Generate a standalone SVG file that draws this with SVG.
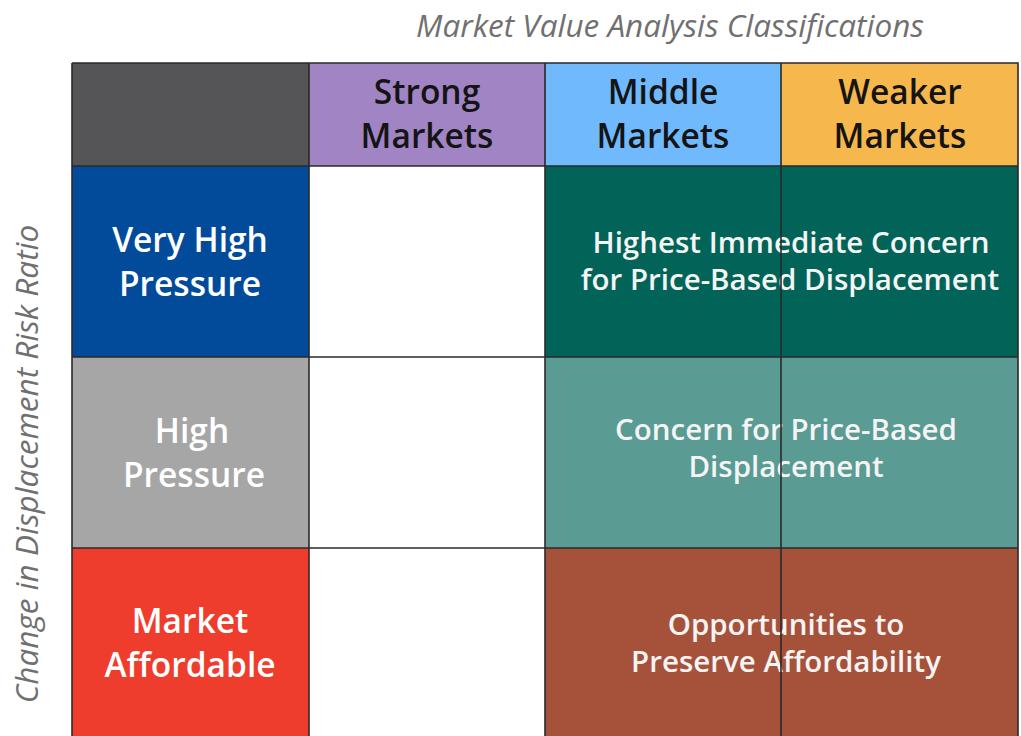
<svg xmlns="http://www.w3.org/2000/svg" width="1021" height="736" viewBox="0 0 1021 736">
<style>
.hd{font-family:"Open Sans","Liberation Sans",sans-serif;font-size:33.5px;font-weight:600;fill:#141414;text-anchor:middle}
.rl{font-family:"Open Sans","Liberation Sans",sans-serif;font-size:33.5px;font-weight:600;fill:#ffffff;text-anchor:middle}
.ct{font-family:"Open Sans","Liberation Sans",sans-serif;font-size:29.5px;font-weight:600;fill:#f4f4f4;text-anchor:middle}
.ax{font-family:"Open Sans","Liberation Sans",sans-serif;font-size:31.5px;font-style:italic;fill:#707070;text-anchor:middle}
.ln{stroke:#2a2a2a;stroke-width:1.6;fill:none}
</style>
<rect width="1021" height="736" fill="#ffffff"/>
<text class="ax" x="670" y="37">Market Value Analysis Classifications</text>
<text class="ax" transform="translate(38,464) rotate(-90)">Change in Displacement Risk Ratio</text>

<g id="corner"><rect x="72" y="63" width="237" height="103" fill="#555557"/></g>
<g id="strong"><rect x="309" y="63" width="236" height="103" fill="#a184c4"/><text class="hd" x="427" y="104">Strong</text><text class="hd" x="427" y="148">Markets</text></g>
<g id="middle"><rect x="545" y="63" width="236" height="103" fill="#6fb9fc"/><text class="hd" x="663" y="104">Middle</text><text class="hd" x="663" y="148">Markets</text></g>
<g id="weaker"><rect x="781" y="63" width="237" height="103" fill="#f6b84d"/><text class="hd" x="900" y="104">Weaker</text><text class="hd" x="900" y="148">Markets</text></g>

<g id="very-high"><rect x="72" y="166" width="237" height="191" fill="#024b9b"/><text class="rl" x="190" y="252">Very High</text><text class="rl" x="190" y="296">Pressure</text></g>
<g id="high"><rect x="72" y="357" width="237" height="191" fill="#a6a6a6"/><text class="rl" x="192" y="443">High</text><text class="rl" x="194" y="487">Pressure</text></g>
<g id="affordable"><rect x="72" y="548" width="237" height="190" fill="#ee3d2d"/><text class="rl" x="190" y="633">Market</text><text class="rl" x="190" y="677">Affordable</text></g>

<g id="strong-cells"><rect x="309" y="166" width="236" height="572" fill="#ffffff"/></g>

<g id="highest-concern"><rect x="545" y="166" width="473" height="191" fill="#026358"/><text class="ct" x="791" y="253">Highest Immediate Concern</text><text class="ct" x="790" y="290">for Price-Based Displacement</text></g>
<g id="concern"><rect x="545" y="357" width="473" height="191" fill="#5a9b94"/><text class="ct" x="786" y="440">Concern for Price-Based</text><text class="ct" x="786" y="477">Displacement</text></g>
<g id="opportunities"><rect x="545" y="548" width="473" height="190" fill="#a6523a"/><text class="ct" x="786" y="635">Opportunities to</text><text class="ct" x="786" y="672">Preserve Affordability</text></g>

<g id="connectors">
<path class="ln" d="M72 63H1018V738M72 63V738"/>
<path class="ln" d="M309 63V738M545 63V738M781 63V738"/>
<path class="ln" d="M72 166H1018M72 357H1018M72 548H1018"/>
</g>
</svg>
